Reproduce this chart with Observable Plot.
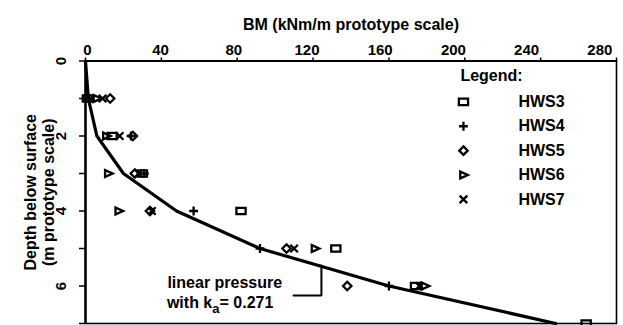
<!DOCTYPE html>
<html><head><meta charset="utf-8">
<script src="https://cdn.jsdelivr.net/npm/d3@7"></script>
<script src="https://cdn.jsdelivr.net/npm/@observablehq/plot@0.6"></script>
<style>body{margin:0;background:#fff}</style>
</head><body><div id="chart"></div>
<script>
// ---- data ----
const series = ["HWS3", "HWS4", "HWS5", "HWS6", "HWS7"];
const depths = [1, 2, 3, 4, 5, 6, 7];
const hws3 = [1, 14, 30, 82, 132, 174, 264];
const hws4 = [2, 24, 31, 57, 92, 160, null];
const hws5 = [13, 25, 26, 34, 106, 138, null];
const hws6 = [6, 11, 12, 17.5, 121, 179, null];
const hws7 = [9, 18, 28, 35, 110, 176, null];
const lineDepths = [0, 1, 2, 3, 4, 5, 6, 7];
const lineBM = [0, 1.5, 6, 20, 48, 92, 160, 248];
const xTicks = [0, 40, 80, 120, 160, 200, 240, 280];
const yTicks = [0, 1, 2, 3, 4, 5, 6, 7];
const yTickLabels = [0, 2, 4, 6];
const xTitle = "BM (kNm/m prototype scale)";
const yTitle = ["Depth below surface", "(m prototype scale)"];
const legendTitle = "Legend:";
const annotation = ["linear pressure", "with k", "a", "= 0.271"];

const values = {HWS3: hws3, HWS4: hws4, HWS5: hws5, HWS6: hws6, HWS7: hws7};
const rows = series.map(name => depths.map((d, i) => ({series: name, depth: d, bm: values[name][i]})).filter(r => r.bm != null));
const lineData = lineDepths.map((d, i) => ({depth: d, bm: lineBM[i]}));

// ---- custom symbols ----
const R = (s) => Math.sqrt(s / Math.PI);
const symbols = {
  HWS3: {draw(c, s) { const r = R(s); c.rect(-r * 1.15, -r * 0.8, r * 2.3, r * 1.6); }},
  HWS4: {draw(c, s) { const r = R(s) * 1.1; c.moveTo(-r, 0); c.lineTo(r, 0); c.moveTo(0, -r); c.lineTo(0, r); }},
  HWS5: {draw(c, s) { const r = R(s) * 1.05; c.moveTo(0, -r); c.lineTo(r, 0); c.lineTo(0, r); c.lineTo(-r, 0); c.closePath(); }},
  HWS6: {draw(c, s) { const r = R(s); c.moveTo(-r * 0.8, -r * 0.85); c.lineTo(r * 1.1, 0); c.lineTo(-r * 0.8, r * 0.85); c.closePath(); }},
  HWS7: {draw(c, s) { const r = R(s) * 0.95; c.moveTo(-r, -r); c.lineTo(r, r); c.moveTo(-r, r); c.lineTo(r, -r); }}
};

const font = {fontSize: 16, fontWeight: "bold", fill: "black"};
const legendSymX = 199.3, legendTextX = 228.3, legendY0 = 1.09, legendDy = 0.65;

const marks = [
  Plot.frame({stroke: "black", strokeWidth: 1.6}),
  Plot.ruleX([0], {stroke: "black", strokeWidth: 2.4}),
  Plot.ruleY([0], {stroke: "black", strokeWidth: 2.2}),
  Plot.axisX({anchor: "top", ticks: xTicks, tickSize: 4, tickFormat: () => "", label: null, strokeWidth: 1.5}),
  Plot.axisY({anchor: "left", ticks: yTicks, tickSize: 6, tickFormat: () => "", label: null, strokeWidth: 1.5}),
  // printed tick labels sit slightly left of their ticks in the reference
  Plot.text(xTicks, {x: d => d * 0.965 + 1, frameAnchor: "top", dy: -17, text: d => `${d}`, textAnchor: "middle", ...font, fontSize: 15}),
  Plot.text(yTickLabels, {y: d => d, frameAnchor: "left", dx: -24, rotate: -90, text: d => `${d}`, textAnchor: "middle", ...font, fontSize: 15}),
  Plot.text([xTitle], {frameAnchor: "top", dy: -42, text: d => d, textAnchor: "middle", ...font}),
  Plot.text([yTitle[0]], {frameAnchor: "left", dx: -55, rotate: -90, text: d => d, textAnchor: "middle", ...font}),
  Plot.text([yTitle[1]], {frameAnchor: "left", dx: -37, rotate: -90, text: d => d, textAnchor: "middle", ...font}),
  Plot.line(lineData, {x: "bm", y: "depth", stroke: "black", strokeWidth: 3.2}),
  Plot.line([{bm: 109.7, depth: 6.25}, {bm: 124.4, depth: 6.25}, {bm: 124.4, depth: 5.45}], {x: "bm", y: "depth", stroke: "black", strokeWidth: 2, strokeLinejoin: "miter"}),
  Plot.text([annotation[0]], {x: () => 43.2, y: () => 5.91, text: d => d, textAnchor: "start", ...font}),
  Plot.text([legendTitle], {x: () => 197.7, y: () => 0.387, text: d => d, textAnchor: "start", ...font}),
  Plot.text(series, {x: () => legendTextX, y: (d, i) => legendY0 + i * legendDy, text: d => d, textAnchor: "start", ...font})
];
series.forEach((name, i) => {
  marks.push(Plot.dot(rows[i], {x: "bm", y: "depth", symbol: symbols[name], r: 4, stroke: "black", strokeWidth: 2.3, fill: "none"}));
  marks.push(Plot.dot([name], {x: () => legendSymX, y: () => legendY0 + i * legendDy, symbol: symbols[name], r: 4, stroke: "black", strokeWidth: 2.3, fill: "none"}));
});

const chart = Plot.plot({
  width: 623, height: 325,
  marginTop: 60.5, marginLeft: 85, marginRight: 7, marginBottom: 2,
  style: {fontFamily: "'Liberation Sans', Arial, Helvetica, sans-serif", background: "white", overflow: "visible"},
  x: {domain: [0, 280], axis: null},
  y: {domain: [0, 7], reverse: true, axis: null},
  marks
});

// subscripted annotation line
const X = chart.scale("x").apply, Y = chart.scale("y").apply;
const t = d3.select(chart).append("text")
  .attr("x", X(43.2)).attr("y", Y(6.47)).attr("dy", "0.32em")
  .attr("text-anchor", "start")
  .attr("font-size", 16).attr("font-weight", "bold").attr("fill", "black");
t.append("tspan").text(annotation[1]);
t.append("tspan").attr("dy", 5).attr("font-size", 13).text(annotation[2]);
t.append("tspan").attr("dy", -5).text(annotation[3]);

document.getElementById("chart").append(chart);
</script>
</body></html>
